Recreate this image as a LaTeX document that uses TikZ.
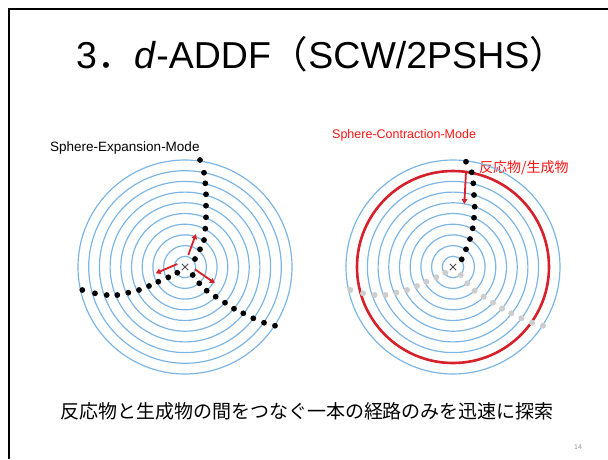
\documentclass[tikz,border=0pt]{standalone}
\usepackage{fontspec}
\setmainfont{Liberation Sans}
\newfontfamily\jp{Noto Sans CJK JP}
\usetikzlibrary{arrows.meta}
\definecolor{ringblue}{RGB}{125,182,228}
\definecolor{ringred}{RGB}{214,32,42}
\definecolor{dotgrey}{RGB}{205,205,205}
\definecolor{labelred}{RGB}{255,20,20}
\tikzset{
  ring/.style={draw=ringblue, line width=1.2pt},
  redring/.style={draw=ringred, line width=2.6pt},
  blackdot/.style={circle, fill=black, inner sep=0pt, minimum size=5.8pt},
  greydot/.style={circle, fill=dotgrey, inner sep=0pt, minimum size=6pt},
  redarrow/.style={draw=ringred, line width=1.8pt, -{Triangle[length=5pt,width=5.5pt]}},
  crossmark/.style={draw=black!70, line width=1pt},
}
\begin{document}
\begin{tikzpicture}[x=1pt,y=-1pt]
\useasboundingbox (0,0) rectangle (608,459);
% slide frame
\draw[line width=2pt] (608,9) -- (9,9) -- (9,459);
% title
\node[anchor=base west, inner sep=0pt, font=\fontsize{37.5}{40}\selectfont] (title) at (76,68)
  {3{\jp ．}\textit{d}-ADDF{\jp （}SCW/2PSHS{\jp ）}};
% labels
\node[anchor=base west, inner sep=0pt, font=\fontsize{13.5}{15}\selectfont] (lexp) at (50,151) {Sphere-Expansion-Mode};
\node[anchor=base west, inner sep=0pt, text=labelred, font=\fontsize{12.5}{14}\selectfont] (lcon) at (332,138) {Sphere-Contraction-Mode};
\node[anchor=base west, inner sep=0pt, text=labelred, font=\jp\fontsize{14}{16}\selectfont] (lrp) at (479,172) {反応物/生成物};
\node[anchor=base, inner sep=0pt, font=\jp\fontsize{19}{22}\selectfont] (bottom) at (307,418) {反応物と生成物の間をつなぐ一本の経路のみを迅速に探索};
\node[anchor=base, inner sep=0pt, text=black!40, font=\fontsize{7}{8}\selectfont] (pg) at (578,449) {14};

% ---------- left diagram ----------
\begin{scope}[shift={(185,267)}]
  \coordinate (LC) at (0,0);
  \foreach \k in {1,...,10} { \draw[ring] (0,0) circle ({10.7*\k}); }
  \foreach \p [count=\i] in {(15,-107),(19,-94.3),(20.3,-83.7),(21,-72.7),(21,-61.3),(21,-49.7),(20.3,-38.3),(19,-27),(15,-17.7),(10,-8)}
    { \node[blackdot] (lu\i) at \p {}; }
  \foreach \p [count=\i] in {(-102.7,23),(-90,26.3),(-78.3,28),(-67.7,28),(-56.7,25.7),(-46,23),(-36,19),(-26.7,14.7),(-16.7,10.3),(-7.7,5.7)}
    { \node[blackdot] (ll\i) at \p {}; }
  \foreach \p [count=\i] in {(7.7,8),(14.3,16.3),(21.7,23.7),(30.7,29.7),(40,35.7),(49,41.7),(58.3,46.3),(68.3,51.3),(79,55.7),(90,58.7)}
    { \node[blackdot] (lr\i) at \p {}; }
  \draw[crossmark] (-3.2,-3.2) -- (3.2,3.2) (-3.2,3.2) -- (3.2,-3.2);
  \coordinate (la1s) at (3.3,-12); \coordinate (la1e) at (11,-33);
  \coordinate (la2s) at (-7.7,-3); \coordinate (la2e) at (-29.3,6.3);
  \coordinate (la3s) at (10,2.3);  \coordinate (la3e) at (30,16.3);
  \draw[redarrow] (la1s) -- (la1e);
  \draw[redarrow] (la2s) -- (la2e);
  \draw[redarrow] (la3s) -- (la3e);
\end{scope}

% ---------- right diagram ----------
\begin{scope}[shift={(453,267)}]
  \coordinate (RC) at (0,0);
  \foreach \k in {1,...,10} { \draw[ring] (0,0) circle ({10.7*\k}); }
  \draw[redring] (0,0) circle (96);
  \foreach \p [count=\i] in {(-102.7,23),(-90,26.3),(-78.3,28),(-67.7,28),(-56.7,25.7),(-46,23),(-36,19),(-26.7,14.7),(-16.7,10.3),(-7.7,5.7)}
    { \node[greydot] (rl\i) at \p {}; }
  \foreach \p [count=\i] in {(7.7,8),(14.3,16.3),(21.7,23.7),(30.7,29.7),(40,35.7),(49,41.7),(58.3,46.3),(68.3,51.3),(79,55.7),(90,58.7)}
    { \node[greydot] (rr\i) at \p {}; }
  \foreach \p [count=\i] in {(13,-105.3),(18.7,-94.7),(20.3,-83.7),(21,-72),(21.7,-60.3),(21,-49.3),(19.7,-38.7),(17,-28),(13,-17.7),(8.7,-7.7)}
    { \node[blackdot] (ru\i) at \p {}; }
  \draw[crossmark] (-3.2,-3.2) -- (3.2,3.2) (-3.2,3.2) -- (3.2,-3.2);
  \coordinate (ra1s) at (13,-95); \coordinate (ra1e) at (11.3,-63);
  \draw[redarrow] (ra1s) -- (ra1e);
\end{scope}
\end{tikzpicture}
\end{document}
